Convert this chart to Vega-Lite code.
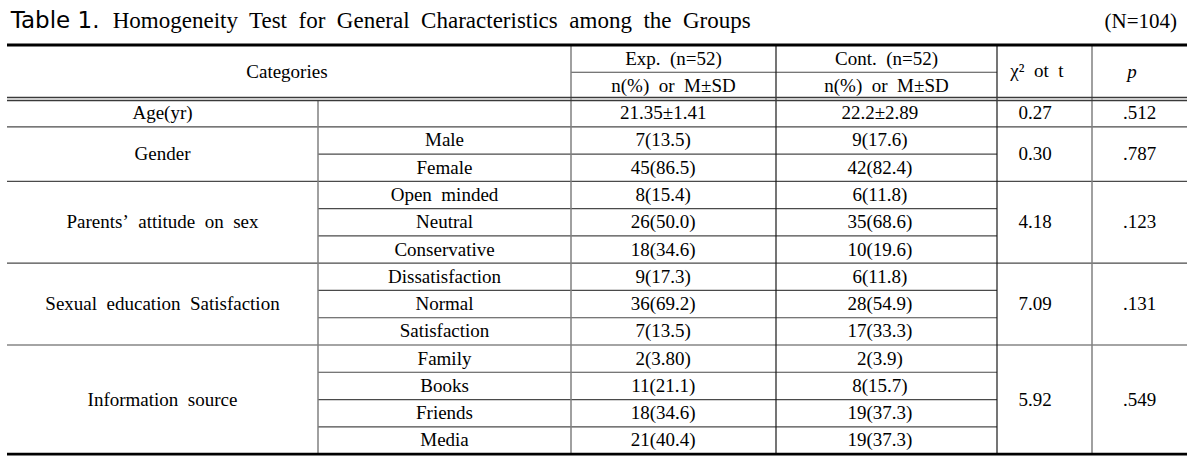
{
  "$schema": "https://vega.github.io/schema/vega-lite/v6.json",
  "width": 1195,
  "height": 459,
  "padding": 0,
  "autosize": {"type": "none"},
  "background": "white",
  "config": {"view": {"stroke": null}, "text": {"font": "Liberation Serif", "fontSize": 19, "color": "black", "baseline": "middle"}},
  "datasets": {
    "title": [
      {"x": 0.012, "r": -0.62, "t": "Table 1."},
      {"x": 6.0, "r": -0.62, "t": "(N=104)"}
    ],
    "titleText": [
      {"x": 0.34, "r": -0.62, "t": "Homogeneity\u00a0 Test\u00a0 for\u00a0 General\u00a0 Characteristics\u00a0 among\u00a0 the\u00a0 Groups"}
    ],
    "header": [
      {"x": 0.9, "r": 1, "t": "Categories"},
      {"x": 2.5, "r": 0.5, "t": "Exp.\u00a0 (n=52)"},
      {"x": 2.5, "r": 1.5, "t": "n(%)\u00a0 or\u00a0 M±SD"},
      {"x": 3.5, "r": 0.5, "t": "Cont.\u00a0 (n=52)"},
      {"x": 3.5, "r": 1.5, "t": "n(%)\u00a0 or\u00a0 M±SD"},
      {"x": 4.42, "r": 0.95, "t": "χ²\u00a0 ot\u00a0 t"}
    ],
    "headerItalic": [
      {"x": 5.42, "r": 1, "t": "p"}
    ],
    "categories": [
      {"r": 2.5, "label": "Age(yr)"},
      {"r": 4, "label": "Gender"},
      {"r": 6.5, "label": "Parents’\u00a0 attitude\u00a0 on\u00a0 sex"},
      {"r": 9.5, "label": "Sexual\u00a0 education\u00a0 Satisfaction"},
      {"r": 13, "label": "Information\u00a0 source"}
    ],
    "rows": [
      {"r": 2.5, "sub": "", "exp": "21.35±1.41", "cont": "22.2±2.89"},
      {"r": 3.5, "sub": "Male", "exp": "7(13.5)", "cont": "9(17.6)"},
      {"r": 4.5, "sub": "Female", "exp": "45(86.5)", "cont": "42(82.4)"},
      {"r": 5.5, "sub": "Open\u00a0 minded", "exp": "8(15.4)", "cont": "6(11.8)"},
      {"r": 6.5, "sub": "Neutral", "exp": "26(50.0)", "cont": "35(68.6)"},
      {"r": 7.5, "sub": "Conservative", "exp": "18(34.6)", "cont": "10(19.6)"},
      {"r": 8.5, "sub": "Dissatisfaction", "exp": "9(17.3)", "cont": "6(11.8)"},
      {"r": 9.5, "sub": "Normal", "exp": "36(69.2)", "cont": "28(54.9)"},
      {"r": 10.5, "sub": "Satisfaction", "exp": "7(13.5)", "cont": "17(33.3)"},
      {"r": 11.5, "sub": "Family", "exp": "2(3.80)", "cont": "2(3.9)"},
      {"r": 12.5, "sub": "Books", "exp": "11(21.1)", "cont": "8(15.7)"},
      {"r": 13.5, "sub": "Friends", "exp": "18(34.6)", "cont": "19(37.3)"},
      {"r": 14.5, "sub": "Media", "exp": "21(40.4)", "cont": "19(37.3)"}
    ],
    "tests": [
      {"r": 2.5, "stat": "0.27", "p": ".512"},
      {"r": 4, "stat": "0.30", "p": ".787"},
      {"r": 6.5, "stat": "4.18", "p": ".123"},
      {"r": 9.5, "stat": "7.09", "p": ".131"},
      {"r": 13, "stat": "5.92", "p": ".549"}
    ],
    "thick": [
      {"r": 0, "x1": 0, "x2": 6},
      {"r": 15, "x1": 0, "x2": 6}
    ],
    "double": [
      {"r": 1.925, "x1": 0, "x2": 6},
      {"r": 2.035, "x1": 0, "x2": 6}
    ],
    "hlines": [
      {"r": 1, "x1": 2, "x2": 4},
      {"r": 3, "x1": 0, "x2": 6},
      {"r": 4, "x1": 1, "x2": 4},
      {"r": 5, "x1": 0, "x2": 6},
      {"r": 6, "x1": 1, "x2": 4},
      {"r": 7, "x1": 1, "x2": 4},
      {"r": 8, "x1": 0, "x2": 6},
      {"r": 9, "x1": 1, "x2": 4},
      {"r": 10, "x1": 1, "x2": 4},
      {"r": 11, "x1": 0, "x2": 6},
      {"r": 12, "x1": 1, "x2": 4},
      {"r": 13, "x1": 1, "x2": 4},
      {"r": 14, "x1": 1, "x2": 4}
    ],
    "vgray": [
      {"c": 1, "r1": 2.035, "r2": 15},
      {"c": 2, "r1": 0, "r2": 15},
      {"c": 5, "r1": 0, "r2": 15}
    ],
    "vdark": [
      {"c": 3, "r1": 0, "r2": 15},
      {"c": 4, "r1": 0, "r2": 15}
    ]
  },
  "encoding": {},
  "layer": [
    {
      "data": {"name": "hlines"},
      "mark": {"type": "rule", "color": "#4a4a4a", "strokeWidth": 1.2},
      "encoding": {
        "x": {"field": "x1", "type": "quantitative", "scale": {"domain": [0, 1, 2, 3, 4, 5, 6], "range": [7, 318, 571, 776, 997, 1092, 1187], "nice": false, "zero": false}, "axis": null},
        "x2": {"field": "x2"},
        "y": {"field": "r", "type": "quantitative", "scale": {"domain": [-1.65, 15.18], "range": [0, 459], "nice": false, "zero": false}, "axis": null}
      }
    },
    {
      "data": {"name": "vgray"},
      "mark": {"type": "rule", "color": "#808080", "strokeWidth": 1.5},
      "encoding": {
        "x": {"field": "c", "type": "quantitative"},
        "y": {"field": "r1", "type": "quantitative"},
        "y2": {"field": "r2"}
      }
    },
    {
      "data": {"name": "vdark"},
      "mark": {"type": "rule", "color": "#1a1a1a", "strokeWidth": 1.2},
      "encoding": {
        "x": {"field": "c", "type": "quantitative"},
        "y": {"field": "r1", "type": "quantitative"},
        "y2": {"field": "r2"}
      }
    },
    {
      "data": {"name": "double"},
      "mark": {"type": "rule", "color": "#3a3a3a", "strokeWidth": 1.5},
      "encoding": {
        "x": {"field": "x1", "type": "quantitative"},
        "x2": {"field": "x2"},
        "y": {"field": "r", "type": "quantitative"}
      }
    },
    {
      "data": {"name": "thick"},
      "mark": {"type": "rule", "color": "black", "strokeWidth": 2.8},
      "encoding": {
        "x": {"field": "x1", "type": "quantitative"},
        "x2": {"field": "x2"},
        "y": {"field": "r", "type": "quantitative"}
      }
    },
    {
      "data": {"name": "title"},
      "mark": {"type": "text", "font": "DejaVu Sans", "fontSize": 23, "baseline": "alphabetic", "align": "left"},
      "transform": [{"filter": "datum.t == 'Table 1.'"}],
      "encoding": {
        "x": {"field": "x", "type": "quantitative"},
        "y": {"field": "r", "type": "quantitative"},
        "text": {"field": "t"}
      }
    },
    {
      "data": {"name": "title"},
      "mark": {"type": "text", "fontSize": 21, "baseline": "alphabetic", "align": "right", "dx": -10},
      "transform": [{"filter": "datum.t != 'Table 1.'"}],
      "encoding": {
        "x": {"field": "x", "type": "quantitative"},
        "y": {"field": "r", "type": "quantitative"},
        "text": {"field": "t"}
      }
    },
    {
      "data": {"name": "titleText"},
      "mark": {"type": "text", "fontSize": 23, "baseline": "alphabetic", "align": "left"},
      "encoding": {
        "x": {"field": "x", "type": "quantitative"},
        "y": {"field": "r", "type": "quantitative"},
        "text": {"field": "t"}
      }
    },
    {
      "data": {"name": "header"},
      "mark": {"type": "text"},
      "encoding": {
        "x": {"field": "x", "type": "quantitative"},
        "y": {"field": "r", "type": "quantitative"},
        "text": {"field": "t"}
      }
    },
    {
      "data": {"name": "headerItalic"},
      "mark": {"type": "text", "fontStyle": "italic"},
      "encoding": {
        "x": {"field": "x", "type": "quantitative"},
        "y": {"field": "r", "type": "quantitative"},
        "text": {"field": "t"}
      }
    },
    {
      "data": {"name": "categories"},
      "mark": {"type": "text"},
      "encoding": {
        "x": {"datum": 0.5, "type": "quantitative"},
        "y": {"field": "r", "type": "quantitative"},
        "text": {"field": "label"}
      }
    },
    {
      "data": {"name": "rows"},
      "mark": {"type": "text"},
      "encoding": {
        "x": {"datum": 1.5, "type": "quantitative"},
        "y": {"field": "r", "type": "quantitative"},
        "text": {"field": "sub"}
      }
    },
    {
      "data": {"name": "rows"},
      "mark": {"type": "text"},
      "encoding": {
        "x": {"datum": 2.45, "type": "quantitative"},
        "y": {"field": "r", "type": "quantitative"},
        "text": {"field": "exp"}
      }
    },
    {
      "data": {"name": "rows"},
      "mark": {"type": "text"},
      "encoding": {
        "x": {"datum": 3.47, "type": "quantitative"},
        "y": {"field": "r", "type": "quantitative"},
        "text": {"field": "cont"}
      }
    },
    {
      "data": {"name": "tests"},
      "mark": {"type": "text"},
      "encoding": {
        "x": {"datum": 4.4, "type": "quantitative"},
        "y": {"field": "r", "type": "quantitative"},
        "text": {"field": "stat"}
      }
    },
    {
      "data": {"name": "tests"},
      "mark": {"type": "text"},
      "encoding": {
        "x": {"datum": 5.5, "type": "quantitative"},
        "y": {"field": "r", "type": "quantitative"},
        "text": {"field": "p"}
      }
    }
  ]
}
